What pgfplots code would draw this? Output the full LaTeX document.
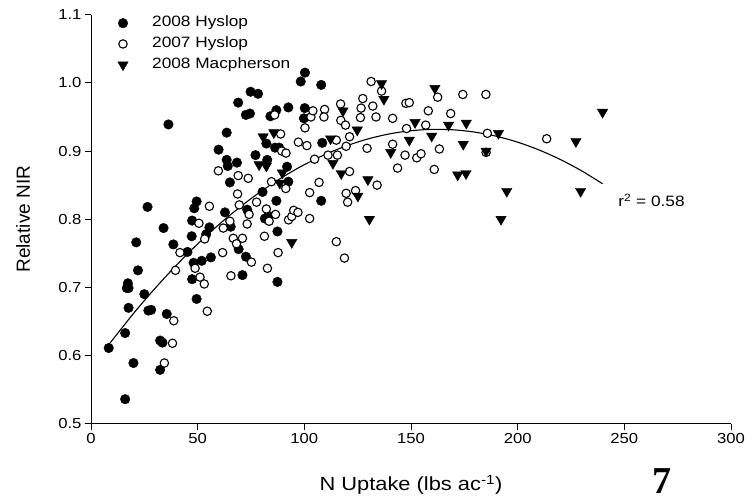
\documentclass[border=0pt]{standalone}
\usepackage{fontspec}
\setmainfont{Liberation Sans}[FakeStretch=1.15]
\newfontfamily\plainsans{Liberation Sans}
\newfontfamily\tnr{Liberation Serif}
\usepackage{pgfplots}
\pgfplotsset{compat=1.18}
\pgfplotsset{
  dotleg/.style={legend image code/.code={\path (0pt,0pt) (34pt,0pt); \draw[##1] plot coordinates {(6pt,0pt)};}},
}
\begin{document}
\begin{tikzpicture}
\useasboundingbox (-91pt,-74.3pt) rectangle (662pt,423.7pt);
\begin{axis}[
  at={(0pt,0pt)}, anchor=south west,
  scale only axis, width=640pt, height=409pt,
  xmin=0, xmax=300, ymin=0.5, ymax=1.1,
  axis lines*=left,
  axis line style={line width=0.9pt},
  xtick={0,50,100,150,200,250,300},
  ytick={0.5,0.6,0.7,0.8,0.9,1.0,1.1},
  tick align=outside, major tick length=6pt,
  tick style={line width=0.9pt, black},
  /pgf/number format/assume math mode=true,
  tick label style={font=\fontsize{14.5}{16}\selectfont},
  xticklabel={\raisebox{-10pt}{\pgfmathprintnumber{\tick}}},
  yticklabel={\pgfmathprintnumber[fixed, fixed zerofill, precision=1]{\tick}\hspace{5pt}},
  xlabel={N Uptake (lbs ac\textsuperscript{-1})},
  ylabel={Relative NIR},
  x label style={at={(axis description cs:0.5,-0.149)}, anchor=center, font=\fontsize{19}{22}\selectfont},
  y label style={at={(axis description cs:-0.106,0.5)}, anchor=center, font=\plainsans\fontsize{19}{22}\selectfont},
  legend style={draw=none, fill=none, at={(axis description cs:0.04,1.0)}, anchor=north west,
    font=\fontsize{15}{17}\selectfont, inner sep=0pt, row sep=4.3pt,
    nodes={inner sep=1pt, text height=11pt, text depth=3.5pt}},
  legend cell align=left,
  clip=false,
]
% 2008 Hyslop
\addplot[only marks, mark=*, mark size=4.8pt, mark options={fill=black, draw=black, line width=0.4pt}, dotleg] coordinates {
(8.3,0.611) (16.0,0.536) (16.0,0.633) (16.8,0.699) (17.3,0.706) (17.6,0.699) (17.6,0.670)
(19.9,0.589) (21.2,0.766) (22.0,0.725) (25.0,0.690) (26.5,0.818) (26.9,0.666) (28.2,0.667)
(32.4,0.579) (32.4,0.622) (33.5,0.619) (34.0,0.787) (35.5,0.661) (36.3,0.939) (38.6,0.763)
(45.2,0.752) (47.2,0.775) (47.4,0.712) (48.1,0.736) (47.4,0.798) (48.4,0.816) (49.5,0.826)
(49.5,0.683) (51.9,0.739) (54.0,0.778) (55.5,0.788) (56.2,0.744) (59.8,0.902) (62.8,0.810)
(63.6,0.927) (63.6,0.887) (64.1,0.878) (65.1,0.854) (65.5,0.789) (68.4,0.883) (69.0,0.971)
(69.2,0.756) (71.0,0.718) (72.6,0.745) (72.6,0.953) (74.5,0.955) (73.2,0.814) (74.8,0.987)
(77.1,0.894) (78.3,0.984) (80.4,0.840) (81.5,0.801) (83.1,0.805) (82.2,0.911) (82.6,0.887)
(84.1,0.951) (86.3,0.905) (88.2,0.905) (86.9,0.960) (86.9,0.827) (87.4,0.782) (87.4,0.708)
(91.9,0.877) (92.5,0.855) (92.5,0.964) (98.3,1.002) (99.8,0.948) (100.2,0.963) (100.3,1.015)
(107.9,0.997) (107.9,0.827) (108.4,0.912)
};
\addlegendentry{2008 Hyslop}
% 2007 Hyslop
\addplot[only marks, mark=*, mark size=4.2pt, mark options={fill=white, draw=black, line width=1.1pt}, dotleg] coordinates {
(34.4,0.589) (38.2,0.618) (38.8,0.651) (39.6,0.725) (41.7,0.751) (48.8,0.728) (51.1,0.715)
(53.1,0.705) (54.5,0.665) (50.6,0.794) (53.3,0.771) (55.5,0.819) (59.7,0.871) (61.7,0.751)
(62.0,0.787) (65.1,0.797) (65.6,0.717) (66.7,0.772) (68.2,0.764) (68.7,0.837) (69.0,0.864)
(69.5,0.821) (71.0,0.772) (73.2,0.793) (73.7,0.860) (74.1,0.807) (75.2,0.737) (77.6,0.825)
(81.3,0.775) (82.2,0.815) (82.7,0.728) (83.5,0.797) (84.6,0.855) (86.1,0.953) (86.5,0.807)
(87.7,0.751) (88.9,0.925) (89.4,0.900) (91.4,0.897) (91.3,0.845) (92.6,0.799) (94.1,0.804)
(95.0,0.813) (97.0,0.810) (97.2,0.913) (100.3,0.934) (101.2,0.908) (102.5,0.801) (102.5,0.839)
(103.1,0.950) (104.0,0.959) (104.8,0.888) (106.9,0.854) (109.5,0.961) (109.2,0.950)
(111.1,0.894) (115.0,0.767) (115.0,0.916) (115.5,0.894) (117.0,0.969) (117.1,0.945)
(118.8,0.743) (119.3,0.938) (119.6,0.907) (119.6,0.838) (120.3,0.825) (121.2,0.921)
(121.2,0.870) (124.0,0.842) (126.3,0.949) (126.6,0.963) (127.4,0.977) (129.4,0.904)
(131.3,1.002) (132.1,0.966) (133.6,0.950) (134.1,0.850) (136.2,0.988) (141.4,0.948)
(141.4,0.910) (143.7,0.875) (147.6,0.970) (149.2,0.971) (147.9,0.933) (147.2,0.894)
(152.7,0.890) (154.7,0.896) (156.9,0.938) (158.1,0.959) (160.9,0.873) (162.5,0.979)
(163.3,0.903) (168.6,0.955) (174.3,0.983) (185.1,0.983) (185.8,0.926) (185.2,0.898)
(213.6,0.918)
};
\addlegendentry{2007 Hyslop}
% 2008 Macpherson
\addplot[only marks, mark=triangle*, mark size=6pt, mark options={rotate=180, fill=black, draw=black, line width=0.4pt}, dotleg] coordinates {
(78.8,0.880) (80.7,0.921) (82.2,0.878) (85.7,0.927) (88.5,0.853) (89.7,0.868) (94.1,0.766)
(112.3,0.918) (113.4,0.882) (117.3,0.867) (118.1,0.959) (124.8,0.931) (125.1,0.834)
(129.8,0.858) (130.5,0.800) (136.2,0.999) (137.3,0.976) (140.5,0.898) (149.2,0.916)
(151.9,0.942) (159.7,0.922) (161.2,0.992) (167.6,0.938) (171.9,0.865) (174.5,0.910)
(175.9,0.941) (175.8,0.867) (185.2,0.900) (191.0,0.926) (192.2,0.800) (194.9,0.841)
(227.3,0.914) (229.5,0.841) (239.8,0.957)
};
\addlegendentry{2008 Macpherson}
% fitted quadratic trend
\addplot[black, line width=1.1pt, smooth, no marks, forget plot] coordinates {
(8.6,0.617) (20,0.662) (30,0.6985) (40,0.7324) (50,0.7637) (60,0.7923) (70,0.8182)
(80,0.8415) (90,0.8621) (100,0.8800) (110,0.8953) (120,0.9079) (130,0.9179) (140,0.9252)
(150,0.9298) (160,0.9318) (170,0.9311) (180,0.9277) (190,0.9217) (200,0.9130) (210,0.9016)
(220,0.8876) (230,0.8709) (239.8,0.852)
};
\node[anchor=west, font=\fontsize{15}{17}\selectfont] at (axis cs:245.6,0.828) {r\textsuperscript{2} = 0.58};
\end{axis}
\node[inner sep=0pt, font=\tnr\bfseries\fontsize{38}{38}\selectfont] at (571pt,-57.5pt) {7};
\end{tikzpicture}
\end{document}
